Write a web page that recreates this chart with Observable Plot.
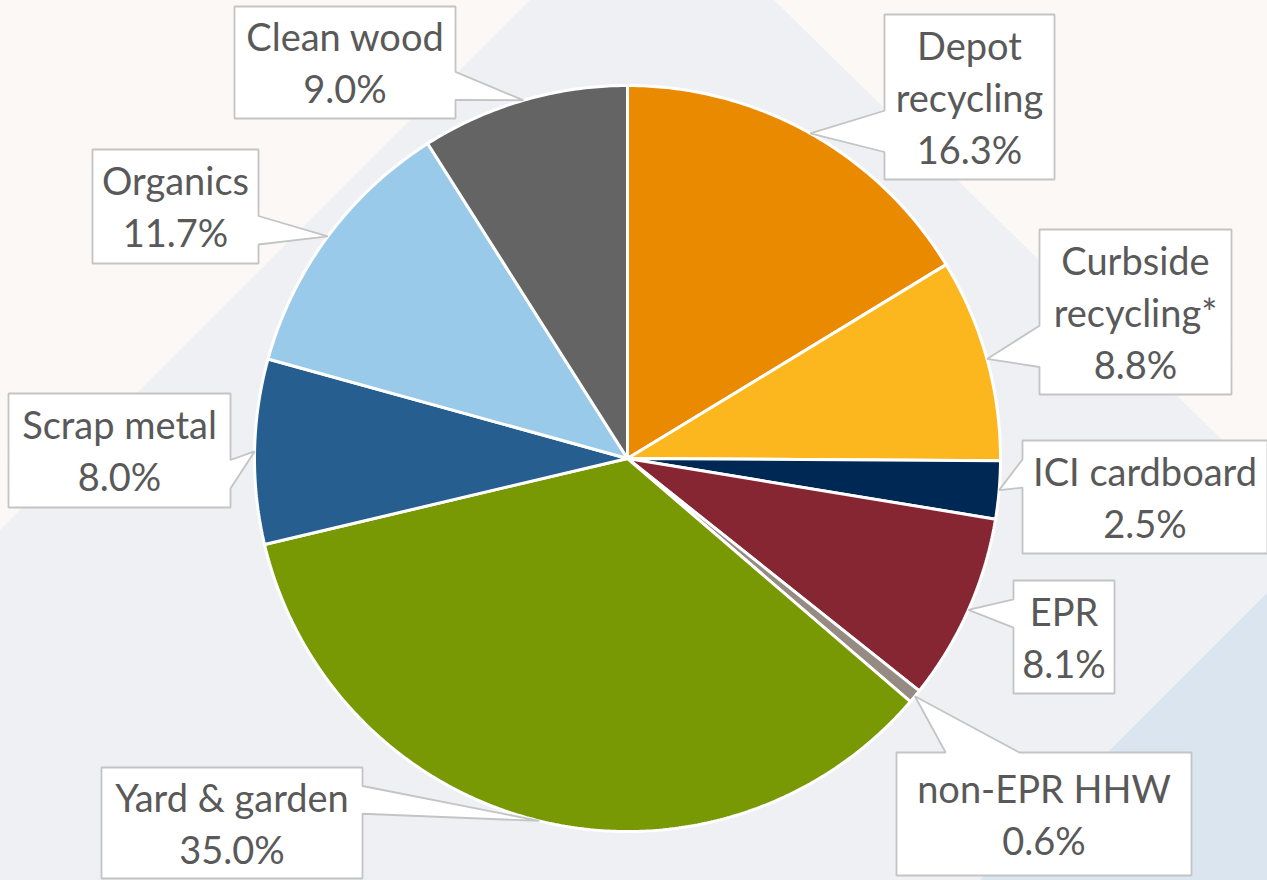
<!DOCTYPE html>
<html>
<head>
<meta charset="utf-8">
<script src="https://cdn.jsdelivr.net/npm/d3@7"></script>
<script src="https://cdn.jsdelivr.net/npm/@observablehq/plot@0.6"></script>
<style>
  body { margin: 0; }
  #wrap { position: relative; width: 1267px; height: 880px; overflow: hidden; background: #fcf8f5; }
  .bg { position: absolute; left: 0; top: 0; width: 1267px; height: 880px; }
  #chart { position: absolute; left: 0; top: 0; }
</style>
</head>
<body>
<div id="wrap">
  <div class="bg" style="background:#eef0f4;clip-path:polygon(530px 0,774px 0,1267px 484px,1267px 880px,0 880px,0 530px)"></div>
  <div class="bg" style="background:#dae5ef;clip-path:polygon(1267px 593px,1267px 880px,980px 880px)"></div>
  <div id="chart"></div>
</div>
<script>
// Diversion streams, clockwise from 12 o'clock
const categories = [
  "Depot recycling", "Curbside recycling*", "ICI cardboard", "EPR", "non-EPR HHW",
  "Yard & garden", "Scrap metal", "Organics", "Clean wood"
];
const shares = [16.3, 8.8, 2.5, 8.1, 0.6, 35.0, 8.0, 11.7, 9.0];
const labelNames = [
  "Depot\nrecycling", "Curbside\nrecycling*", "ICI cardboard", "EPR", "non-EPR HHW",
  "Yard & garden", "Scrap metal", "Organics", "Clean wood"
];
const sliceColors = [
  "#ea8a00", "#fdb71e", "#002855", "#862633", "#958b82",
  "#789904", "#255e8f", "#9acaea", "#646464"
];

// Frame and pie geometry (frame units = pixels)
const W = 1267, H = 880;
const CX = 627, CY = 458, R = 373;

// Callout boxes [left, top, right, bottom], one per category
const calloutBoxes = [
  [884, 14, 1054, 179],
  [1039, 229, 1231, 394],
  [1022, 440, 1267, 553],
  [1013, 580, 1114, 693],
  [896, 752, 1191, 875],
  [101, 767, 362, 878],
  [8, 393, 230, 507],
  [92, 149, 258, 263],
  [234, 6, 455, 118]
];

const rows = categories.map((category, i) => ({category, share: shares[i], name: labelNames[i], box: calloutBoxes[i]}));
const arcs = d3.pie().sort(null).value(d => d.share)(rows);

const polar = (a, r) => [CX + r * Math.sin(a), CY - r * Math.cos(a)];

// Slice outlines: centre, then the arc sampled every half degree
const slicePoints = arcs.flatMap(a => {
  const pts = [{category: a.data.category, x: CX, y: CY}];
  const n = Math.max(2, Math.ceil((a.endAngle - a.startAngle) / (Math.PI / 360)));
  for (let k = 0; k <= n; ++k) {
    const [x, y] = polar(a.startAngle + (a.endAngle - a.startAngle) * k / n, R);
    pts.push({category: a.data.category, x, y});
  }
  return pts;
});

// Rectangular callout with a wedge pointing at the slice edge
function calloutOutline([l, t, r, b], tip) {
  const w = r - l, h = b - t, hc = (l + r) / 2, vc = (t + b) / 2;
  const dx = tip[0] - hc, dy = tip[1] - vc;
  const dz = Math.abs(dy) - Math.abs(dx * h / w);
  const x1 = l + w * (dx > 0 ? 7 : 2) / 12, x2 = l + w * (dx > 0 ? 10 : 5) / 12;
  const y1 = t + h * (dy > 0 ? 7 : 2) / 12, y2 = t + h * (dy > 0 ? 10 : 5) / 12;
  const pts = [[l, t]];
  if (dz > 0 && dy < 0) pts.push([x1, t], tip, [x2, t]);
  pts.push([r, t]);
  if (dz <= 0 && dx > 0) pts.push([r, y1], tip, [r, y2]);
  pts.push([r, b]);
  if (dz > 0 && dy > 0) pts.push([x2, b], tip, [x1, b]);
  pts.push([l, b]);
  if (dz <= 0 && dx < 0) pts.push([l, y2], tip, [l, y1]);
  return pts;
}

const calloutPoints = arcs.flatMap(a => {
  const tip = polar((a.startAngle + a.endAngle) / 2, R);
  return calloutOutline(a.data.box, tip).map(([x, y]) => ({category: a.data.category, x, y}));
});

const labels = rows.map(d => ({
  x: (d.box[0] + d.box[2]) / 2,
  y: (d.box[1] + d.box[3]) / 2 - 2,
  text: `${d.name}\n${d.share.toFixed(1)}%`
}));

const chart = Plot.plot({
  width: W,
  height: H,
  margin: 0,
  x: {domain: [0, W], range: [0, W], axis: null},
  y: {domain: [0, H], range: [0, H], axis: null},
  color: {domain: categories, range: sliceColors},
  style: {background: "transparent", overflow: "visible"},
  marks: [
    Plot.line(slicePoints, {
      x: "x", y: "y", z: "category", fill: "category",
      stroke: "white", strokeWidth: 3, strokeLinejoin: "miter", curve: "linear-closed"
    }),
    Plot.line(calloutPoints, {
      x: "x", y: "y", z: "category", fill: "white",
      stroke: "#c4c4c4", strokeWidth: 1.8, strokeLinejoin: "miter", curve: "linear-closed"
    }),
    Plot.text(labels, {
      x: "x", y: "y", text: "text",
      fontSize: 38, lineHeight: 1.37, fill: "#595959", fontFamily: "Lato"
    })
  ]
});

document.getElementById("chart").appendChild(chart);
</script>
</body>
</html>
